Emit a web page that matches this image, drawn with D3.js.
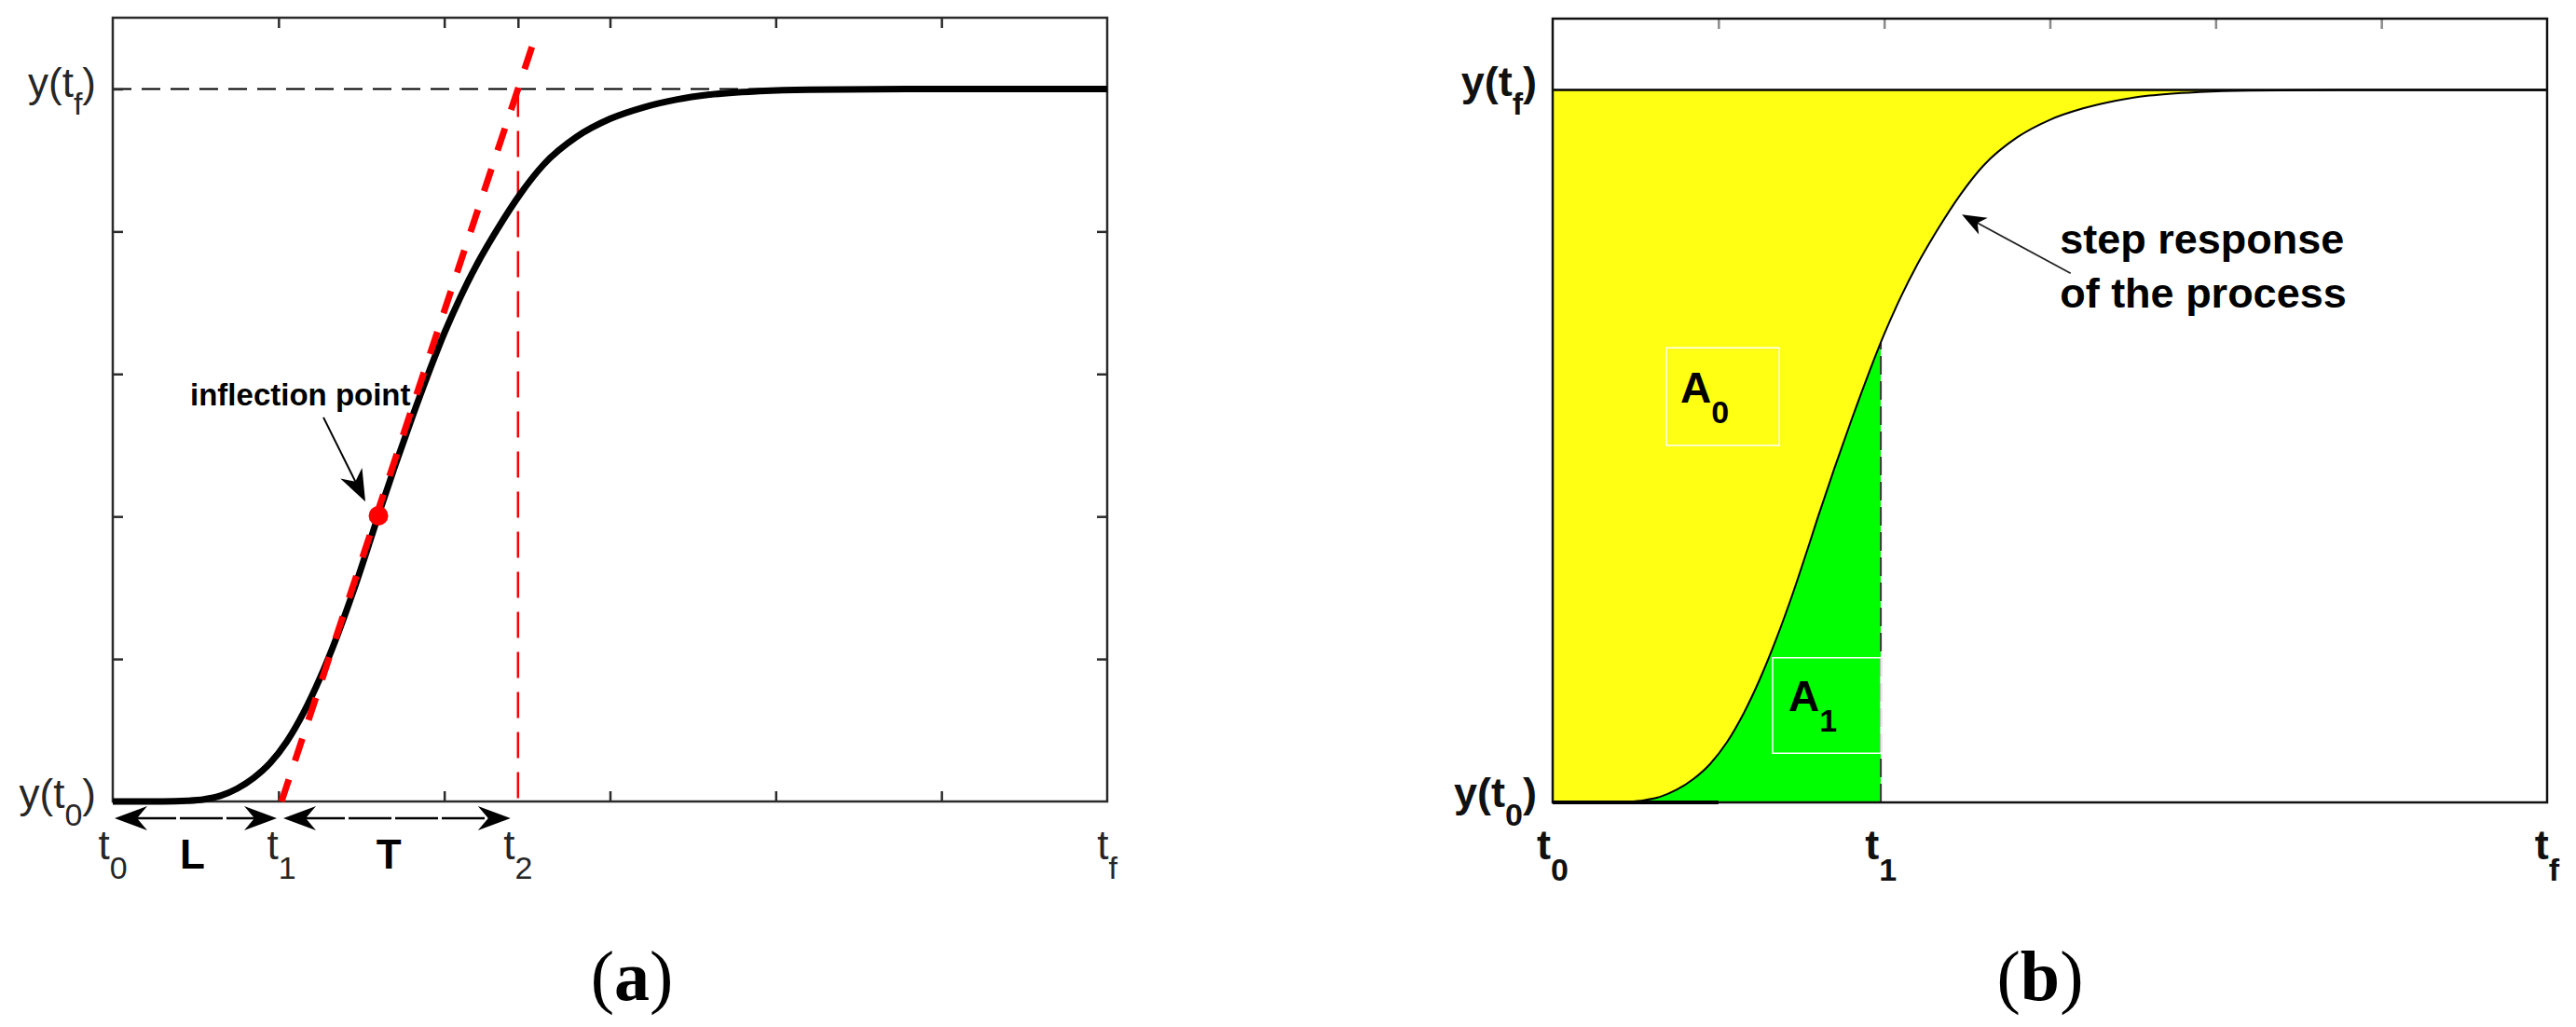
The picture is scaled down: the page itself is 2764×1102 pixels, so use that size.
<!DOCTYPE html>
<html>
<head>
<meta charset="utf-8">
<script src="https://cdn.jsdelivr.net/npm/d3@7"></script>
<style>
  html, body { margin: 0; padding: 0; background: #ffffff; }
  svg { display: block; }
</style>
</head>
<body>
<svg id="chart" width="2764" height="1102"></svg>
<script>
// ---------------- DATA ----------------
// step response: time (t0 = 0 ... tf = 6) and normalised output (y(t0)=0, y(tf)=1)
const timeValues = [0, 0.3, 0.45, 0.55, 0.65, 0.75, 0.85, 0.95, 1.05, 1.15, 1.25, 1.35, 1.45, 1.55, 1.6, 1.7, 1.8, 1.9, 2.0, 2.1, 2.2, 2.32, 2.46, 2.6, 2.8, 3.0, 3.2, 3.4, 3.6, 3.9, 4.2, 5.0, 6.0];
const responseValues = [0, 0, 0.001, 0.003, 0.008, 0.018, 0.033, 0.054, 0.084, 0.124, 0.173, 0.230, 0.294, 0.364, 0.4, 0.469, 0.535, 0.598, 0.657, 0.709, 0.755, 0.803, 0.853, 0.894, 0.933, 0.958, 0.974, 0.985, 0.992, 0.997, 0.999, 1.0, 1.0];

// panel (a) characteristic times and inflection point
const tStart = 0, tFinal = 6;
const t1a = 1.018, t2a = 2.445;
const inflection = [1.603, 0.401];
const tangentTop = 1.08;

// panel (b) characteristic time and green-area height
const t1b = 1.98;
const greenTop = 0.645;

// axis ticks
const xTickValues = [1, 2, 3, 4, 5];
const yTickValues = [0.2, 0.4, 0.6, 0.8, 1.0];

// tick labels
const xLabelsA = [["t", "0", tStart], ["t", "1", t1a], ["t", "2", t2a], ["t", "f", tFinal]];
const xLabelsB = [["t", "0", tStart], ["t", "1", t1b], ["t", "f", tFinal]];
const yLabels = [["y(t", "f", ")", 1], ["y(t", "0", ")", 0]];
const spanLabels = [["L", 0.48], ["T", 1.665]];
const areaLabels = [["A", "0"], ["A", "1"]];
const annotationTexts = ["inflection point", "step response", "of the process"];
const panelTitles = ["a", "b"];

// annotation anchors (data units)
const inflLabelAt = [0.467, 0.556];
const inflArrow = [[1.271, 0.539], [1.524, 0.421]];
const a0Box = [0.686, 1.367, 0.501, 0.638];
const a1Box = [1.327, 1.98, 0.069, 0.203];
const a0TextAt = [0.771, 0.561];
const a1TextAt = [1.423, 0.128];
const stepTextAt = [3.06, 0.770, 0.6946];
const stepArrow = [[3.125, 0.7426], [2.469, 0.825]];

// ---------------- DRAWING ----------------
const data = timeValues.map((t, i) => ({ t, y: responseValues[i] }));
const svg = d3.select("#chart");
const SANS = "'Liberation Sans', Arial, Helvetica, sans-serif";
const SERIF = "'Liberation Serif', 'Times New Roman', serif";
const AXC = "#2b2b2b";

const xA = d3.scaleLinear().domain([0, 6]).range([121, 1188]);
const yA = d3.scaleLinear().domain([0, 1.1]).range([860, 19]);
const xB = d3.scaleLinear().domain([0, 6]).range([1666, 2733]);
const yB = d3.scaleLinear().domain([0, 1.1]).range([861, 20]);

function arrowHead(g, tip, from, len, halfW, notch, fill) {
  const dx = tip[0] - from[0], dy = tip[1] - from[1];
  const L = Math.hypot(dx, dy); const ux = dx / L, uy = dy / L; const px = -uy, py = ux;
  const bx = tip[0] - ux * len, by = tip[1] - uy * len;
  const nx = tip[0] - ux * (len - notch), ny = tip[1] - uy * (len - notch);
  const p = `M${tip[0]},${tip[1]} L${bx + px * halfW},${by + py * halfW} L${nx},${ny} L${bx - px * halfW},${by - py * halfW} Z`;
  g.append("path").attr("d", p).attr("fill", fill);
}

function subLabel(g, x, y, base, sub, tail, size, subSize, drop, weight, anchor, fill) {
  const t = g.append("text").attr("x", x).attr("y", y)
    .attr("font-family", SANS).attr("font-size", size).attr("font-weight", weight)
    .attr("text-anchor", anchor).attr("fill", fill);
  t.append("tspan").text(base);
  t.append("tspan").attr("dy", drop).attr("font-size", subSize).text(sub);
  if (tail) t.append("tspan").attr("dy", -drop).text(tail);
  return t;
}

// ================= PANEL (a) =================
const gA = svg.append("g");

// dashed line at y(tf)
gA.append("line")
  .attr("x1", xA(0)).attr("x2", xA(6)).attr("y1", yA(1)).attr("y2", yA(1))
  .attr("stroke", "#000").attr("stroke-width", 2).attr("stroke-dasharray", "20,11");

// thin red dashed vertical at t2
gA.append("line")
  .attr("x1", xA(t2a)).attr("x2", xA(t2a)).attr("y1", yA(1) + 2).attr("y2", yA(-0.013))
  .attr("stroke", "#ff0000").attr("stroke-width", 2.5).attr("stroke-dasharray", "28,15");

// ticks
function styleTicks(g, col) {
  g.select(".domain").remove();
  g.selectAll(".tick line").attr("stroke", col).attr("stroke-width", 2.5);
  g.selectAll(".tick text").remove();
}
gA.append("g").attr("transform", `translate(0,${yA(0)})`)
  .call(d3.axisBottom(xA).tickValues(xTickValues).tickSizeInner(-11).tickSizeOuter(0).tickFormat(() => ""))
  .call(g => styleTicks(g, AXC));
gA.append("g").attr("transform", `translate(0,${yA(1.1)})`)
  .call(d3.axisTop(xA).tickValues(xTickValues.concat([t2a])).tickSizeInner(-11).tickSizeOuter(0).tickFormat(() => ""))
  .call(g => styleTicks(g, AXC));
gA.append("g").attr("transform", `translate(${xA(0)},0)`)
  .call(d3.axisLeft(yA).tickValues(yTickValues).tickSizeInner(-11).tickSizeOuter(0).tickFormat(() => ""))
  .call(g => styleTicks(g, AXC));
gA.append("g").attr("transform", `translate(${xA(6)},0)`)
  .call(d3.axisRight(yA).tickValues(yTickValues).tickSizeInner(-11).tickSizeOuter(0).tickFormat(() => ""))
  .call(g => styleTicks(g, AXC));

// frame
gA.append("rect")
  .attr("x", xA(0)).attr("y", yA(1.1)).attr("width", xA(6) - xA(0)).attr("height", yA(0) - yA(1.1))
  .attr("fill", "none").attr("stroke", AXC).attr("stroke-width", 2.5);

// response curve (thick)
const lineA = d3.line().x(d => xA(d.t)).y(d => yA(d.y)).curve(d3.curveMonotoneX);
gA.append("path").datum(data).attr("d", lineA)
  .attr("fill", "none").attr("stroke", "#000").attr("stroke-width", 7);

// tangent (thick red dashed) through t1 and t2
gA.append("line")
  .attr("x1", xA(t1a)).attr("y1", yA(0))
  .attr("x2", xA(t1a + tangentTop * (t2a - t1a))).attr("y2", yA(tangentTop))
  .attr("stroke", "#ff0000").attr("stroke-width", 7).attr("stroke-dasharray", "25,21");

// inflection point
gA.append("circle").attr("cx", xA(inflection[0])).attr("cy", yA(inflection[1])).attr("r", 10.5).attr("fill", "#ff0000");

// inflection annotation
gA.append("text").attr("x", xA(inflLabelAt[0])).attr("y", yA(inflLabelAt[1]))
  .attr("font-family", SANS).attr("font-size", 33).attr("font-weight", "bold").attr("fill", "#000")
  .text(annotationTexts[0]);
{
  const p0 = [xA(inflArrow[0][0]), yA(inflArrow[0][1])], p1 = [xA(inflArrow[1][0]), yA(inflArrow[1][1])];
  gA.append("line").attr("x1", p0[0]).attr("y1", p0[1]).attr("x2", p1[0] - (p1[0]-p0[0])*0.2).attr("y2", p1[1] - (p1[1]-p0[1])*0.2)
    .attr("stroke", "#000").attr("stroke-width", 2);
  arrowHead(gA, p1, p0, 34, 13, 10, "#000");
}

// L and T span arrows
const arrowY = yA(0) + 18;
function spanArrow(a, b) {
  gA.append("line").attr("x1", a + 20).attr("x2", b - 20).attr("y1", arrowY).attr("y2", arrowY)
    .attr("stroke", "#000").attr("stroke-width", 2.5).attr("stroke-dasharray", "46,4");
  arrowHead(gA, [a, arrowY], [b, arrowY], 35, 13, 11, "#000");
  arrowHead(gA, [b, arrowY], [a, arrowY], 35, 13, 11, "#000");
}
spanArrow(xA(tStart) + 2, xA(t1a) - 5);
spanArrow(xA(t1a) + 2, xA(t2a) - 8);

spanLabels.forEach(([s, v]) => {
  gA.append("text").attr("x", xA(v)).attr("y", yA(0) + 72)
    .attr("font-family", SANS).attr("font-size", 44).attr("font-weight", "bold")
    .attr("text-anchor", "middle").attr("fill", "#000").text(s);
});

// t labels (a)
xLabelsA.forEach(([b, s, v]) => subLabel(gA, xA(v), yA(0) + 62, b, s, null, 44, 34, 21, "normal", "middle", "#262626"));
// y labels (a)
yLabels.forEach(([b, s, tl, v]) => subLabel(gA, 103, yA(v) + (v === 1 ? 9 : 7), b, s, tl, 44, 34, 19, "normal", "end", "#262626"));

// ================= PANEL (b) =================
const gB = svg.append("g");
const areaYellow = d3.area().x(d => xB(d.t)).y0(yB(1)).y1(d => yB(d.y)).curve(d3.curveMonotoneX);
const areaGreen = d3.area().x(d => xB(d.t)).y0(yB(0)).y1(d => yB(d.y)).curve(d3.curveMonotoneX);
const lineB = d3.line().x(d => xB(d.t)).y(d => yB(d.y)).curve(d3.curveMonotoneX);

svg.append("defs").append("clipPath").attr("id", "clipGreen")
  .append("rect").attr("x", xB(0)).attr("y", yB(1.1)).attr("width", xB(t1b) - xB(0)).attr("height", yB(0) - yB(1.1));

gB.append("path").datum(data).attr("d", areaYellow).attr("fill", "#ffff14");
gB.append("path").datum(data).attr("d", areaGreen).attr("fill", "#00ff00").attr("clip-path", "url(#clipGreen)");

// t1 dashed boundary
gB.append("line").attr("x1", xB(t1b)).attr("x2", xB(t1b)).attr("y1", yB(0)).attr("y2", yB(greenTop))
  .attr("stroke", "#3a3a3a").attr("stroke-width", 2).attr("stroke-dasharray", "20,7");

// A0 / A1 boxes
[[a0Box, a0TextAt, areaLabels[0]], [a1Box, a1TextAt, areaLabels[1]]].forEach(([bx, at, lab]) => {
  gB.append("rect").attr("x", xB(bx[0])).attr("y", yB(bx[3]))
    .attr("width", xB(bx[1]) - xB(bx[0])).attr("height", yB(bx[2]) - yB(bx[3]))
    .attr("fill", "none").attr("stroke", "#ffffff").attr("stroke-width", 1.5);
  subLabel(gB, xB(at[0]), yB(at[1]), lab[0], lab[1], null, 46, 34, 22, "bold", "start", "#000");
});

// curve (thin)
gB.append("path").datum(data).attr("d", lineB).attr("fill", "none").attr("stroke", "#000").attr("stroke-width", 2);
// y(tf) line
gB.append("line").attr("x1", xB(0)).attr("x2", xB(6)).attr("y1", yB(1)).attr("y2", yB(1))
  .attr("stroke", "#000").attr("stroke-width", 2.5);

// top ticks
gB.append("g").attr("transform", `translate(0,${yB(1.1)})`)
  .call(d3.axisTop(xB).tickValues(xTickValues).tickSizeInner(-11).tickSizeOuter(0).tickFormat(() => ""))
  .call(g => styleTicks(g, "#8a8a8a"));

// frame
gB.append("rect")
  .attr("x", xB(0)).attr("y", yB(1.1)).attr("width", xB(6) - xB(0)).attr("height", yB(0) - yB(1.1))
  .attr("fill", "none").attr("stroke", "#111").attr("stroke-width", 2.5);
gB.append("line").attr("x1", xB(0)).attr("x2", xB(1)).attr("y1", yB(0)).attr("y2", yB(0))
  .attr("stroke", "#000").attr("stroke-width", 4);

// step response annotation
gB.append("text").attr("x", xB(stepTextAt[0])).attr("y", yB(stepTextAt[1]))
  .attr("font-family", SANS).attr("font-size", 45).attr("font-weight", "bold").attr("fill", "#000").text(annotationTexts[1]);
gB.append("text").attr("x", xB(stepTextAt[0])).attr("y", yB(stepTextAt[2]))
  .attr("font-family", SANS).attr("font-size", 45).attr("font-weight", "bold").attr("fill", "#000").text(annotationTexts[2]);
{
  const p0 = [xB(stepArrow[0][0]), yB(stepArrow[0][1])], p1 = [xB(stepArrow[1][0]), yB(stepArrow[1][1])];
  gB.append("line").attr("x1", p0[0]).attr("y1", p0[1]).attr("x2", p1[0] + (p0[0]-p1[0])*0.12).attr("y2", p1[1] + (p0[1]-p1[1])*0.12)
    .attr("stroke", "#222").attr("stroke-width", 1.8);
  arrowHead(gB, p1, p0, 26, 10, 7, "#000");
}

// labels (b)
xLabelsB.forEach(([b, s, v]) => subLabel(gB, xB(v), yB(0) + 61, b, s, null, 45, 34, 23, "bold", "middle", "#111"));
yLabels.forEach(([b, s, tl, v]) => subLabel(gB, 1649, yB(v) + (v === 1 ? 7 : 5), b, s, tl, 45, 34, 20, "bold", "end", "#111"));

// ================= PANEL TITLES =================
[[panelTitles[0], 678], [panelTitles[1], 2189]].forEach(([s, cx]) => {
  const t = svg.append("text").attr("x", cx).attr("y", 1073)
    .attr("font-family", SERIF).attr("font-size", 76).attr("text-anchor", "middle").attr("fill", "#000");
  t.append("tspan").text("(");
  t.append("tspan").attr("font-weight", "bold").text(s);
  t.append("tspan").text(")");
});
</script>
</body>
</html>
